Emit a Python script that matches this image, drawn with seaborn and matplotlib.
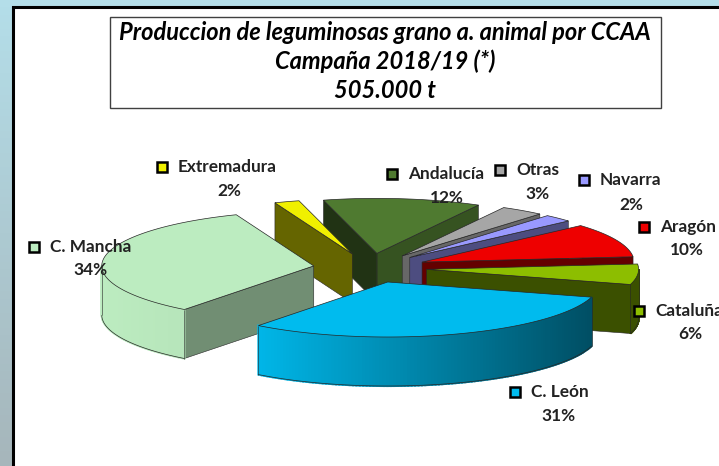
import numpy as np
import matplotlib
matplotlib.use("Agg")
import matplotlib.pyplot as plt
from matplotlib.colors import to_rgb
from matplotlib.patches import Rectangle
import seaborn as sns

# --- DATA ---
REGIONS = ["Cataluña", "Aragón", "Navarra", "Otras", "Andalucía",
           "Extremadura", "C. Mancha", "C. León"]
SHARES = [6.0, 10.0, 2.2, 3.3, 12.0, 1.9, 33.6, 31.0]
TITLE_LINES = ["Produccion de leguminosas grano a. animal por CCAA",
               "Campaña 2018/19 (*)", "505.000 t"]

# --- STYLE ---
COLORS = ["#8DBE00", "#EE0000", "#9999FF", "#A6A6A6", "#4F7A30",
          "#F0F000", "#BCECC0", "#00BBEE"]
SHADE_START = [0.42, 0.42, 0.50, 0.62, 0.68, 0.42, 0.60, 0.50]
SHADE_END = [0.42, 0.42, 0.50, 0.62, 0.42, 0.42, 0.60, 0.50]
KEY_POS = [(639, 311), (644, 227), (584, 180), (500, 170), (392, 174),
           (162, 167), (34, 247), (515, 392)]
PCT_POS = [(690, 334), (687, 250), (631, 205), (538, 194), (447, 198),
           (229, 191), (90, 270), (559, 416)]

# pie geometry in pixels
CX, CY = 370, 268
RX, RY = 212, 55
EXPLODE = 0.268
DEPTH = 49
START_ANGLE = -16

sns.set_theme(style="white")
plt.rcParams["font.family"] = ["Lato", "DejaVu Sans"]
palette = sns.color_palette(COLORS)


def shaded(color, factor):
    return tuple(c * factor for c in to_rgb(color))


def arc_shade(theta):
    """Excel style gradient on the rim, light on the left and dark on the right."""
    c = np.cos(theta)
    return float(np.interp(c, [-1, -0.6, 0.96], [1.0, 0.97, 0.42]))


def draw_slice(ax, i, t1, t2):
    mid = (t1 + t2) / 2
    ax_x = CX + EXPLODE * RX * np.cos(mid)
    ax_y = CY - EXPLODE * RY * np.sin(mid)
    theta = np.linspace(t1, t2, 120)
    xs = ax_x + RX * np.cos(theta)
    ys = ax_y - RY * np.sin(theta)
    color = palette[i]
    edge = (0.15, 0.15, 0.15)

    # radial cut faces that look towards the viewer
    if np.cos(t1) > 0:
        ax.fill([ax_x, xs[0], xs[0], ax_x], [ax_y, ys[0], ys[0] + DEPTH, ax_y + DEPTH],
                color=shaded(color, SHADE_START[i]), ec=edge, lw=0.4)
    if np.cos(t2) < 0:
        ax.fill([ax_x, xs[-1], xs[-1], ax_x], [ax_y, ys[-1], ys[-1] + DEPTH, ax_y + DEPTH],
                color=shaded(color, SHADE_END[i]), ec=edge, lw=0.4)

    # rim, only the front part of the arc
    for j in range(len(theta) - 1):
        if np.sin((theta[j] + theta[j + 1]) / 2) < 0:
            ax.fill([xs[j], xs[j + 1], xs[j + 1], xs[j]],
                    [ys[j], ys[j + 1], ys[j + 1] + DEPTH, ys[j] + DEPTH],
                    color=shaded(color, arc_shade(theta[j])), lw=1.5)
    front = np.sin(theta) < 0
    if front.any():
        ax.plot(xs[front], ys[front] + DEPTH, color=edge, lw=0.5)
        ax.plot([xs[front][-1]] * 2, [ys[front][-1], ys[front][-1] + DEPTH], color=edge, lw=0.4)
        ax.plot([xs[front][0]] * 2, [ys[front][0], ys[front][0] + DEPTH], color=edge, lw=0.4)

    # top face
    ax.fill(np.r_[ax_x, xs], np.r_[ax_y, ys], color=color, ec=edge, lw=0.5)


fig = plt.figure(figsize=(7.19, 4.66), dpi=100)
ax = fig.add_axes([0, 0, 1, 1])
ax.set_xlim(0, 719)
ax.set_ylim(466, 0)
ax.axis("off")

# light blue slide background behind the chart area
grad = np.linspace(0, 1, 64)[:, None, None]
top_col = np.array(to_rgb("#B4DEE9"))[None, None, :]
bot_col = np.array(to_rgb("#A6B6BB"))[None, None, :]
ax.imshow(top_col * (1 - grad) + bot_col * grad, extent=(0, 719, 466, 0), aspect="auto", zorder=0)
ax.add_patch(Rectangle((13, 7), 720, 470, fc="white", ec="black", lw=2.2, zorder=1))

# slices, far ones first
sweeps = np.deg2rad(np.array(SHARES) * 3.6)
starts = np.deg2rad(START_ANGLE) + np.r_[0, np.cumsum(sweeps)[:-1]]
ends = starts + sweeps
mids = (starts + ends) / 2
for i in np.argsort(-np.sin(mids)):
    draw_slice(ax, i, starts[i], ends[i])

# title box
ax.add_patch(Rectangle((110, 17), 551, 91, fc="white", ec="#404040", lw=1.0, zorder=5))
for line, y in zip(TITLE_LINES, [32, 61, 90]):
    ax.text(385, y, line, ha="center", va="center", fontsize=17, fontweight="bold",
            fontstyle="italic", color="black", zorder=6)

# labels with legend key
for region, share, color, key, pct in zip(REGIONS, SHARES, palette, KEY_POS, PCT_POS):
    ax.add_patch(Rectangle((key[0] - 5, key[1] - 5), 10, 10, fc=color, ec="black", lw=1.8, zorder=6))
    ax.text(key[0] + 16, key[1], region, ha="left", va="center", fontsize=12.4,
            fontweight="bold", color="#222222", zorder=7)
    ax.text(pct[0], pct[1], f"{share:.0f}%", ha="center", va="center", fontsize=12.4,
            fontweight="bold", color="#222222", zorder=7)

fig.savefig("out.png", dpi=100)
